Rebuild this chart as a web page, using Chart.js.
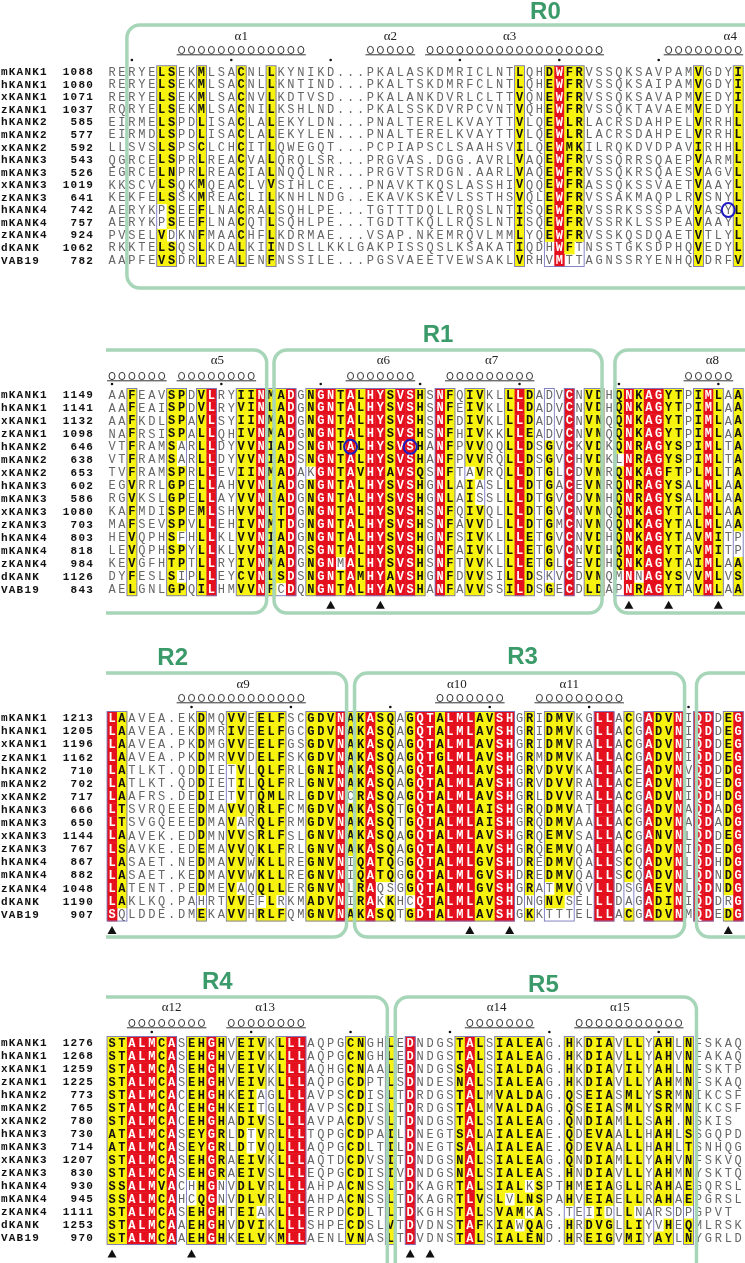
<!DOCTYPE html>
<html>
<head>
<meta charset="utf-8">
<script src="https://cdn.jsdelivr.net/npm/chart.js@4/dist/chart.umd.min.js"></script>
<style>
  body { margin: 0; background: #fff; width: 745px; height: 1263px; overflow: hidden; position: relative; }
  canvas { position: absolute; left: 0; }
</style>
</head>
<body>
<canvas id="b1"></canvas>
<canvas id="b2"></canvas>
<canvas id="b3"></canvas>
<canvas id="b4"></canvas>
<script>
// sequence names (same order in every block)
const seqNames = ["mKANK1", "hKANK1", "xKANK1", "zKANK1", "hKANK2", "mKANK2", "xKANK2", "hKANK3",
  "mKANK3", "xKANK3", "zKANK3", "hKANK4", "mKANK4", "zKANK4", "dKANK", "VAB19"];

// block 1 (R0)
const starts1 = [1088, 1080, 1071, 1037, 585, 577, 592, 543, 526, 1019, 641, 742, 757, 924, 1062, 782];
const seq1 = [
  "RERYELSEKMLSACNLLKYNIKD...PKALASKDMRICLNTLQHDWFRVSSQKSAVPAMVGDYI",
  "RERYELSEKMLSACNLLKNTIND...PKALTSKDMRFCLNTLQHEWFRVSSQKSAIPAMVGDYI",
  "RERYELSEKMLSACNVLKDTVSD...PKALANKDVRLCLTTVQNEWFRVSSQKSAVAPMVEDYI",
  "RQRYELSEKMLSACNILKSHLND...PKALSSKDVRPCVNTVQHEWFRVSSQKTAVAEMVEDYL",
  "EIRMELSPDLISACLALEKYLDN...PNALTERELKVAYTTVLQEWLRLACRSDAHPELVRRHL",
  "EIRMDLSPDLISACLALEKYLEN...PNALTERELKVAYTTVLQEWLRLACRSDAHPELVRRHL",
  "LLSVSLSPSCLCHCITLQWEGQT...PCPIAPSCLSAAHSVILQEWMKILRQKDVDPAVIRHHL",
  "QGRCELSPRLREACVALQRQLSR...PRGVAS.DGG.AVRLVAQEWFRVSSQRRSQAEPVARML",
  "EGRCELNPRLREACIALNQQLNR...PRGVTSRDGN.AARLVAQEWFRVSSQKRSQAESVAGVL",
  "KKSCVLSQKMQEACLVVSIHLCE...PNAVKTKQSLASSHIVQQEWFRASSQKSSVAETVAAYL",
  "KEKFELSSKMREACLILKNHLNDG..EKAVKSKEVLSSTHSVQLEWFRVSSAKMAQPLRVSNYL",
  "AERYKPSEEFLNACRALSQHLPE...TGTTTDQLLRQSLNTISQEWFRVSSRKSSSPAVVASYL",
  "AERYKPSEEFLNACQTLSQHLPE...TGDTTKQLLRQSLNTISQEWFRVSSRKLSSPEAVAAYL",
  "PVSELVDKNFMAACHFLKDRMAE...VSAP.NKEMRQVLMMLYQEWFRVSSKQSDQAETVTLYL",
  "RKKTELSQSLKDALKIINDSLLKKLGAKPISSQSLKSAKATIQDHWFTNSSTGKSDPHQVEDYL",
  "AAPFEVSDRLREALENFNSSILE...PGSVAEETVEWSAKLVRHVMTTAGNSSRYENHQVDRFV"
];
const red1 = [46];
const sim1 = [6, 7, 10, 14, 17, 42, 45, 47, 48, 60, 64];
const dots1 = [3, 13, 23, 36, 46, 56];
const tri1 = [];
const circ1 = [[11, 63]];
const helix1 = [
  { n: "α1", at: 14, s: [[8, 20]] },
  { n: "α2", at: 29, s: [[27, 31]] },
  { n: "α3", at: 41, s: [[33, 50]] },
  { n: "α4", at: 63.2, s: [[57, 64]] }
];

// block 2 (R1)
const starts2 = [1149, 1141, 1132, 1098, 646, 638, 653, 602, 586, 1080, 703, 803, 818, 984, 1126, 843];
const seq2 = [
  "AAFEAVSPDVLRYIINMADGNGNTALHYSVSHSNFQIVKLLLDADVCNVDHQNKAGYTPIMLAA",
  "AAFEAISPDVLRYVINLADGNGNTALHYSVSHSNFEIVKLLLDADVCNVDHQNKAGYTPIMLAA",
  "AAFKDLSPAVLSYIINMADGNGNTALHYSVSHSNFDIVKLLLDADVCNVNQQNKAGYTPIMLAA",
  "NAFRSISPALLQHIVNMADGNGNTALHYSVSHSNFHIVKKLLEADVCNVNQQNKAGYTPIMLAA",
  "VTFRAMSARLLDYVVNIADSNGNTALHYSVSHANFPVVQQLLDSGVCKVDKQNRAGYSPIMLTA",
  "VTFRAMSARLLDYVVNIADSNGNTALHYSVSHANFPVVRQLLDSGVCHVDKLNRAGYSPIMLTA",
  "TVFRAMSPRLLEVIINMADAKGNTAVHYAVSQSNFTAVRQLLDTGLCDVNRQNKAGFTPLMLTA",
  "EGVRRLGPELLAHVVNLADGNGNTALHYSVSHGNLAIASLLLDTGACEVNRQNRAGYSALMLAA",
  "RGVKSLGPELLAYVVNLADGNGNTALHYSVSHGNLAISSLLLDTGVCDVNHQNRAGYSALMLAA",
  "KAFMDISPEMLSHVVNLTDGNGNTALHYSVSHSNFQIVQLLLDTGVCNVNQQNKAGYTALMLAA",
  "MAFSEVSPVLLEHIVNMTDGNGNTALHYSVSHSNFAVVDLLLDTGMCNVNQQNKAGYTALMLAA",
  "HEVQPHSFHLLKLVVNIADGNGNTALHYSVSHGNFSIVKLLLETGVCNVDHQNKAGYTAVMITP",
  "LEVQPHSPYLLKLVVNIADRSGNTALHYSVSHGNFAIVKLLLETGVCNVDHQNKAGYTAVMITP",
  "KEVGFHTPTLLRYIVNMADGNGNMALHYSVSHSNFTVVKLLLETGLCEVDHQNKAGYTAIMLAA",
  "DYFESLSIPLLEYCVNLSDSNGNTAMHYAVSHGNFDVVSILLDSKVCDVNQMNNAGYSVVMLVS",
  "AELGNLGPQILHMVVNFCDQNGNTALHYAVSHANFAVVSSILDSGECDLDAPNRAGYTAVMLAA"
];
const red2 = [11, 16, 19, 22, 23, 25, 27, 28, 30, 31, 34, 42, 47, 53, 55, 56, 61];
const sim2 = [3, 7, 8, 10, 14, 15, 17, 18, 21, 24, 26, 29, 32, 35, 37, 38, 41, 43, 45, 49, 50, 52, 54, 57, 58, 60, 62, 64];
const dots2 = [1, 12, 22, 32, 42, 52, 62];
const tri2 = [23, 28, 53, 57, 62];
const circ2 = [[4, 25], [4, 31]];
const helix2 = [
  { n: "α5", at: 11.6, s: [[1, 6], [8, 15]] },
  { n: "α6", at: 28.3, s: [[25, 31]] },
  { n: "α7", at: 39.2, s: [[35, 43]] },
  { n: "α8", at: 61.4, s: [[59, 63]] }
];

// block 3 (R2, R3)
const starts3 = [1213, 1205, 1196, 1162, 710, 702, 717, 666, 650, 1144, 767, 867, 882, 1048, 1190, 907];
const seq3 = [
  "LAAVEA.EKDMQVVEELFSCGDVNAKASQAGQTALMLAVSHGRIDMVKGLLACGADVNIQDDEG",
  "LAAVEA.EKDMRIVEELFGCGDVNAKASQAGQTALMLAVSHGRIDMVKGLLACGADVNIQDDEG",
  "LAAVEA.PKDMGVVEELFGSGDVNAKASQAGQTALMLAVSHGRIDMVRALLACGADVNIQDDEG",
  "LAAVEA.PKDMRVVDELFSKGDVNAKASQAGQTGLMLAVSHGRMDMVKALLACGADVNIQDDEG",
  "LATLKT.QDDIETVLQLFRLGNINAKASQAGQTALMLAVSHGRVDVVKALLACEADVNVQDDDG",
  "LATLKT.QDDIETILQLFRLGNVNAKASQAGQTALMLAVSHGRVDVVRALLACEADVNIQDEDG",
  "LAAFRS.DEDIETVTQMLRLGDVNCRASQAGQTALMLAVSHGRLDVVRALLACGADVNIQDHDG",
  "LTSVRQEEEDMAVVQRLFCMGDVNAKASQTGQTALMLAISHGRQDMVATLLACGADVNAQDADG",
  "LTSVGQEEEDMAVARQLFRMGDVNAKASQTGQTALMLAISHGRQDMVAALLACGADVNAQDADG",
  "LAAVEK.EDDMNVVSRLFSLGNVNAKASQAGQTALMLAVSHGRQEMVSALLACGANVNLQDDEG",
  "LSAVKE.EDEMAVVQKLFRLGNVNAKASQAGQTALMLAVSHGRQEMVQALLACGADVNIQDEDG",
  "LASAET.NEDMAVVWKLLREGNVNIQATQGGQTALMLGVSHDREDMVQALLSCQADVNLQDHDG",
  "LASAET.KEDMAVVWKLLREGNVNIQATQGGQTALMLGVSHDREDMVQALLSCQADVNLQDNDG",
  "LATENT.PEDMEVAQQLLERGNVNLRAQSGGQTALMLGVSHGRATMVQVLLDSGAEVNLQDNDG",
  "LAKLKQ.PAHRTVVEFLRKMADVNIRAKKHCQTALMLAVSHDNGNVSELLLDAGADINIQDDRG",
  "SQLDDE.DMEKAVVHRLFQMGNVNAKASQTGDTALMLAVSHGKKTTTELLLACGADVNMQDEDG"
];
const red3 = [1, 24, 27, 32, 33, 35, 36, 37, 40, 41, 50, 51, 55, 58, 60, 61, 64];
const sim3 = [2, 10, 13, 14, 16, 17, 18, 21, 22, 23, 25, 26, 28, 29, 31, 34, 38, 39, 43, 45, 46, 47, 53, 56, 57, 63];
const dots3 = [9, 19, 29, 39, 49, 59];
const tri3 = [1, 37, 41, 63];
const circ3 = [];
const helix3 = [
  { n: "α9", at: 14.2, s: [[8, 20]] },
  { n: "α10", at: 35.7, s: [[34, 40]] },
  { n: "α11", at: 47, s: [[44, 52]] }
];

// block 4 (R4, R5)
const starts4 = [1276, 1268, 1259, 1225, 773, 765, 780, 730, 714, 1207, 830, 930, 945, 1111, 1253, 970];
const seq4 = [
  "STALMCASEHGHVEIVKLLLAQPGCNGHLEDNDGSTALSIALEAG.HKDIAVLLYAHLNFSKAQ",
  "STALMCASEHGHVEIVKLLLAQPGCNGHLEDNDGSTALSIALEAG.HKDIAVLLYAHVNFAKAQ",
  "STALMCASEHGHVEIVKLLLAQHGCNAALEDNDGSSALSIALDAG.HKDIAVILYAHLNFSKTP",
  "STALMCASEHGHVEIVKLLLAQPGCDPTLSDNDESNALSIALEAG.HKDIAVLLYAHMNFSKAQ",
  "STALMCACEHGHKEIAGLLLAVPSCDISLTDRDGSTALMVALDAG.QSEIASMLYSRMNIKCSF",
  "STALMCACEHGHKEITGLLLAVPSCDISLTDRDGSTALMVALDAG.QSEIASMLYSRMNIKCSF",
  "STALMCACEHGHADIVSLLLAVPACDVSLTDNDGSTALSIALEAG.QNDIAMLLSAH.NSKIS ",
  "ATALMCASEYGRLDTVRLLLTQPGCDPAILDNEGTSALAIALEAE.QDEVAALLHAHLSSGQPD",
  "ATALMCASEYGRLDTVQLLLAQPGCDLTILDNEGTSALAIALEAE.QDEVAALLHAHLTSNHQG",
  "STALMCASEHGRAEIVKLLLAQTDCDVSITDNDGSNALSIALEAG.QNDIAMLLYAHVNFSKVQ",
  "STALMCASEHGRAEIVSLLLEQPGCDISIVDNDGSNALSIALEAS.HNDIAVLLYAHMNYSKTQ",
  "SSALMVACHHGNVDLVRLLLAHPACNSSLTDKAGRTALSIALKSPTHMEIAGLLRAHAEGQRSL",
  "SSALMCAHCQGNVDLVRLLLAHPACNSSLTDKAGRTLVSLVLNSPAHVEIAELLRAHAEPGRSL",
  "STALMCASEHGHTEIAKLLLERPDCDLTLTDKGHSTALSVAMKAS.TEIIDLLNARSDPGPVT ",
  "STALMCAAEHGHVDVIKLLLSHPECDSLVTDVDNSTAFKIAWQAG.HRDVGLLIYVHEQMLRSK",
  "STALMCAAEHGHKELVKMLLAENLVNASLTDVDNSTALSIALEND.HREIGVMIYAYLNYGRLD"
];
const red4 = [3, 4, 5, 7, 11, 19, 20, 31, 37];
const sim4 = [1, 2, 6, 9, 10, 12, 14, 15, 16, 18, 25, 26, 29, 36, 38, 40, 41, 42, 43, 44, 47, 49, 50, 51, 53, 54, 56, 57, 59];
const dots4 = [5, 15, 25, 35, 45, 56];
const tri4 = [1, 9, 31, 33];
const circ4 = [];
const helix4 = [
  { n: "α12", at: 7, s: [[3, 10]] },
  { n: "α13", at: 16.4, s: [[13, 20]] },
  { n: "α14", at: 39.7, s: [[37, 43]] },
  { n: "α15", at: 52.1, s: [[48, 58]] }
];

// ---- layout / style ----
const NCOL = 64;
const X0 = 112, PW = 9.94, W = 745;
const XMIN = 1 - X0 / PW, XMAX = XMIN + W / PW;
const RED = "#e5101d", YEL = "#f7f20e", GREEN_LINE = "#a6d5b8", GREEN_TXT = "#3b9a69";
const MONO = "'Liberation Mono', monospace";

const layout = [
  { id: "b1", top: 0, h: 300, y0: 72, pitch: 12.55, boxT: -47, boxB: 216,
    boxes: [{ l: 2.5, r: null }], labels: [["R0", 44.6, -60]], alphaDy: -35, coilDy: -22, dotDy: -12 },
  { id: "b2", top: 300, h: 325, y0: 395, pitch: 12.95, boxT: -45, boxB: 218,
    boxes: [{ l: null, r: 16.56 }, { l: 17.3, r: 50.3 }, { l: 51.6, r: null }], labels: [["R1", 33.8, -60]],
    alphaDy: -34, coilDy: -19, dotDy: -11 },
  { id: "b3", top: 625, h: 320, y0: 718, pitch: 13.1, boxT: -45, boxB: 219,
    boxes: [{ l: null, r: 24.6 }, { l: 25.4, r: 58.6 }, { l: 59.8, r: null }], labels: [["R2", 7.1, -60], ["R3", 42.3, -61]],
    alphaDy: -33, coilDy: -20, dotDy: -11 },
  { id: "b4", top: 945, h: 318, y0: 1043, pitch: 13.0, boxT: -46, boxB: 262,
    boxes: [{ l: null, r: 28.7 }, { l: 29.5, r: 59.8 }], labels: [["R4", 11.6, -61], ["R5", 44.4, -58]],
    alphaDy: -35, coilDy: -20, dotDy: -11 }
];

const blocks = [
  { L: layout[0], seqs: seq1, starts: starts1, red: red1, sim: sim1, dots: dots1, tri: tri1, circ: circ1, helices: helix1 },
  { L: layout[1], seqs: seq2, starts: starts2, red: red2, sim: sim2, dots: dots2, tri: tri2, circ: circ2, helices: helix2 },
  { L: layout[2], seqs: seq3, starts: starts3, red: red3, sim: sim3, dots: dots3, tri: tri3, circ: circ3, helices: helix3 },
  { L: layout[3], seqs: seq4, starts: starts4, red: red4, sim: sim4, dots: dots4, tri: tri4, circ: circ4, helices: helix4 }
];

const groups = ["ILVMFC", "FYWH", "KRHQ", "DENQ", "STAGN", "P"];
function similar(a, b) {
  if (a === b) return true;
  return groups.some(g => g.includes(a) && g.includes(b));
}

function consensus(seqs) {
  const out = {};
  for (let c = 1; c <= NCOL; c++) {
    const cnt = {};
    seqs.forEach(s => {
      const ch = s[c - 1];
      if (ch && ch !== "." && ch !== " ") cnt[ch] = (cnt[ch] || 0) + 1;
    });
    let best = null, n = 0;
    for (const k in cnt) if (cnt[k] > n) { n = cnt[k]; best = k; }
    out[c] = best;
  }
  return out;
}

function drawBox(ctx, L, R, T, B, r) {
  const openL = L === null, openR = R === null;
  const l = openL ? 106 : L, rr = openR ? 752 : R;
  ctx.beginPath();
  if (!openL) { ctx.moveTo(l, B - r); ctx.lineTo(l, T + r); ctx.arcTo(l, T, l + r, T, r); }
  else ctx.moveTo(l, T);
  if (!openR) {
    ctx.lineTo(rr - r, T); ctx.arcTo(rr, T, rr, T + r, r);
    ctx.lineTo(rr, B - r); ctx.arcTo(rr, B, rr - r, B, r);
  } else { ctx.lineTo(rr, T); ctx.moveTo(rr, B); }
  if (!openL) { ctx.lineTo(l + r, B); ctx.arcTo(l, B, l, B - r, r); }
  else ctx.lineTo(l, B);
  ctx.stroke();
}

function makePlugin(b) {
  const cons = consensus(b.seqs);
  const cls = {};
  for (let c = 1; c <= NCOL; c++) cls[c] = b.red.includes(c) ? "R" : (b.sim.includes(c) ? "Y" : "");
  const fillOf = (c, ch) => {
    if (ch === "." || ch === " ") return "";
    if (cls[c] === "R") return "R";
    if (cls[c] === "Y" && similar(ch, cons[c])) return "Y";
    return "";
  };

  return {
    id: "msa_" + b.L.id,
    beforeDatasetsDraw(chart) {
      const { ctx, scales: { x, y } } = chart;
      const pw = x.getPixelForValue(2) - x.getPixelForValue(1);
      const ph = y.getPixelForValue(1) - y.getPixelForValue(0);
      ctx.save();
      chart.data.datasets.forEach((ds, r) => {
        const meta = chart.getDatasetMeta(r);
        meta.data.forEach((el, k) => {
          const p = ds.data[k];
          const f = fillOf(p.x, p.ch);
          if (!f) return;
          ctx.fillStyle = f === "R" ? RED : YEL;
          ctx.fillRect(el.x - pw / 2, el.y - ph / 2, pw + 0.4, ph + 0.4);
        });
      });
      // frames round runs of conserved columns
      ctx.strokeStyle = "#7676bf";
      ctx.lineWidth = 0.9;
      const yt = y.getPixelForValue(0) - ph / 2;
      const yb = y.getPixelForValue(b.seqs.length - 1) + ph / 2;
      let c = 1;
      while (c <= NCOL) {
        if (cls[c]) {
          let e = c;
          while (e + 1 <= NCOL && cls[e + 1]) e++;
          const xl = x.getPixelForValue(c) - pw / 2;
          const xr = x.getPixelForValue(e) + pw / 2;
          ctx.strokeRect(xl, yt, xr - xl, yb - yt);
          c = e + 1;
        } else c++;
      }
      ctx.restore();
    },
    afterDatasetsDraw(chart) {
      const { ctx, scales: { x, y } } = chart;
      const L = b.L;
      const pw = x.getPixelForValue(2) - x.getPixelForValue(1);
      const row0 = y.getPixelForValue(0);
      const rowN = y.getPixelForValue(b.seqs.length - 1);
      ctx.save();
      ctx.textBaseline = "middle";

      // residues
      ctx.textAlign = "center";
      chart.data.datasets.forEach((ds, r) => {
        const meta = chart.getDatasetMeta(r);
        meta.data.forEach((el, k) => {
          const p = ds.data[k];
          const f = fillOf(p.x, p.ch);
          if (f === "R") { ctx.fillStyle = "#ffffff"; ctx.font = "bold 12px " + MONO; }
          else if (f === "Y") { ctx.fillStyle = "#111111"; ctx.font = "bold 12px " + MONO; }
          else { ctx.fillStyle = "#666666"; ctx.font = "12px " + MONO; }
          ctx.fillText(p.ch, el.x, el.y + 0.5);
        });
      });

      // names and start numbers
      ctx.fillStyle = "#111";
      ctx.font = "bold 11px " + MONO;
      try { ctx.letterSpacing = "1.2px"; } catch (e) {}
      b.seqs.forEach((s, r) => {
        const yy = y.getPixelForValue(r) + 0.5;
        ctx.textAlign = "left";
        ctx.fillText(seqNames[r], 1, yy);
        ctx.textAlign = "right";
        ctx.fillText(String(b.starts[r]), 94, yy);
      });
      try { ctx.letterSpacing = "0px"; } catch (e) {}

      // circled residues
      ctx.strokeStyle = "#1c1cc0";
      ctx.lineWidth = 2;
      b.circ.forEach(([r, c]) => {
        ctx.beginPath();
        ctx.ellipse(x.getPixelForValue(c), y.getPixelForValue(r), 6.5, 7, 0, 0, Math.PI * 2);
        ctx.stroke();
      });

      // repeat boxes
      ctx.strokeStyle = GREEN_LINE;
      ctx.lineWidth = 3.5;
      const bt = row0 + L.boxT, bb = row0 + L.boxB;
      L.boxes.forEach(bx => {
        const l = bx.l === null ? null : x.getPixelForValue(bx.l);
        const r = bx.r === null ? null : x.getPixelForValue(bx.r);
        drawBox(ctx, l, r, bt, bb, 13);
      });

      // repeat labels
      ctx.fillStyle = GREEN_TXT;
      ctx.font = "bold 24px 'Liberation Sans', Arial, sans-serif";
      ctx.textAlign = "center";
      L.labels.forEach(([t, c, dy]) => ctx.fillText(t, x.getPixelForValue(c), row0 + dy));

      // helices
      ctx.fillStyle = "#222";
      ctx.strokeStyle = "#333";
      ctx.lineWidth = 1;
      ctx.font = "13px 'Liberation Serif', serif";
      b.helices.forEach(h => {
        ctx.fillText(h.n, x.getPixelForValue(h.at), row0 + L.alphaDy);
        h.s.forEach(([a, e]) => {
          const cy = row0 + L.coilDy;
          ctx.beginPath();
          for (let c = a; c <= e; c++) {
            const xc = x.getPixelForValue(c);
            ctx.moveTo(xc + 3, cy);
            ctx.ellipse(xc, cy, 3, 3.6, 0, 0, Math.PI * 2);
          }
          ctx.moveTo(x.getPixelForValue(a) - pw / 2, cy + 4.8);
          ctx.lineTo(x.getPixelForValue(e) + pw / 2, cy + 4.8);
          ctx.stroke();
        });
      });

      // numbering dots
      ctx.fillStyle = "#111";
      b.dots.forEach(c => {
        ctx.beginPath();
        ctx.arc(x.getPixelForValue(c), row0 + L.dotDy, 1.3, 0, Math.PI * 2);
        ctx.fill();
      });

      // triangles under the block
      b.tri.forEach(c => {
        const xc = x.getPixelForValue(c), ty = rowN + 16;
        ctx.beginPath();
        ctx.moveTo(xc, ty - 4.5);
        ctx.lineTo(xc + 4.5, ty + 3.5);
        ctx.lineTo(xc - 4.5, ty + 3.5);
        ctx.closePath();
        ctx.fill();
      });
      ctx.restore();
    }
  };
}

blocks.forEach(b => {
  const L = b.L;
  const cv = document.getElementById(L.id);
  cv.width = W;
  cv.height = L.h;
  cv.style.top = L.top + "px";
  cv.style.width = W + "px";
  cv.style.height = L.h + "px";
  const yMin = -(L.y0 - L.top) / L.pitch;
  new Chart(cv.getContext("2d"), {
    type: "scatter",
    data: {
      datasets: b.seqs.map((s, r) => ({
        label: seqNames[r],
        data: [...s].map((ch, i) => ({ x: i + 1, y: r, ch })).filter(p => p.ch !== " "),
        pointRadius: 0,
        pointHoverRadius: 0
      }))
    },
    options: {
      responsive: false,
      animation: false,
      devicePixelRatio: 1,
      events: [],
      layout: { padding: 0 },
      plugins: { legend: { display: false }, tooltip: { enabled: false } },
      scales: {
        x: { type: "linear", display: false, min: XMIN, max: XMAX },
        y: { type: "linear", display: false, reverse: true, min: yMin, max: yMin + L.h / L.pitch }
      }
    },
    plugins: [makePlugin(b)]
  });
});
</script>
</body>
</html>
